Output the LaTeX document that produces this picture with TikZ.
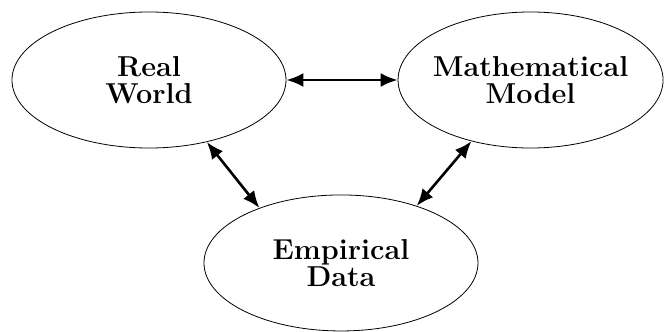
\documentclass[tikz,border=0pt]{standalone}
\usetikzlibrary{shapes.geometric,arrows.meta}
\tikzset{
  blob/.style={draw,ellipse,inner sep=0pt,minimum width=4.815cm,minimum height=2.39cm,
    align=center,font=\Large\bfseries},
  link/.style={{Latex[length=8.5pt,width=7pt]}-{Latex[length=8.5pt,width=7pt]},line width=1.3pt}
}
\begin{document}
\begin{tikzpicture}
\useasboundingbox (0,0) rectangle (11.668,5.834);
\node[blob] (world) at (2.618,4.428) {Real\\[-4.5pt]World};
\node[blob,minimum width=4.657cm,inner xsep=-3pt] (model) at (9.323,4.428) {Mathematical\\[-4.5pt]Model};
\node[blob] (data) at (5.992,1.213) {Empirical\\[-4.5pt]Data};
\draw[link] (world.east) -- (model.west);
\draw[link] (world.-47) -- (data.146);
\draw[link] (model.-134) -- (data.37);
\end{tikzpicture}
\end{document}
